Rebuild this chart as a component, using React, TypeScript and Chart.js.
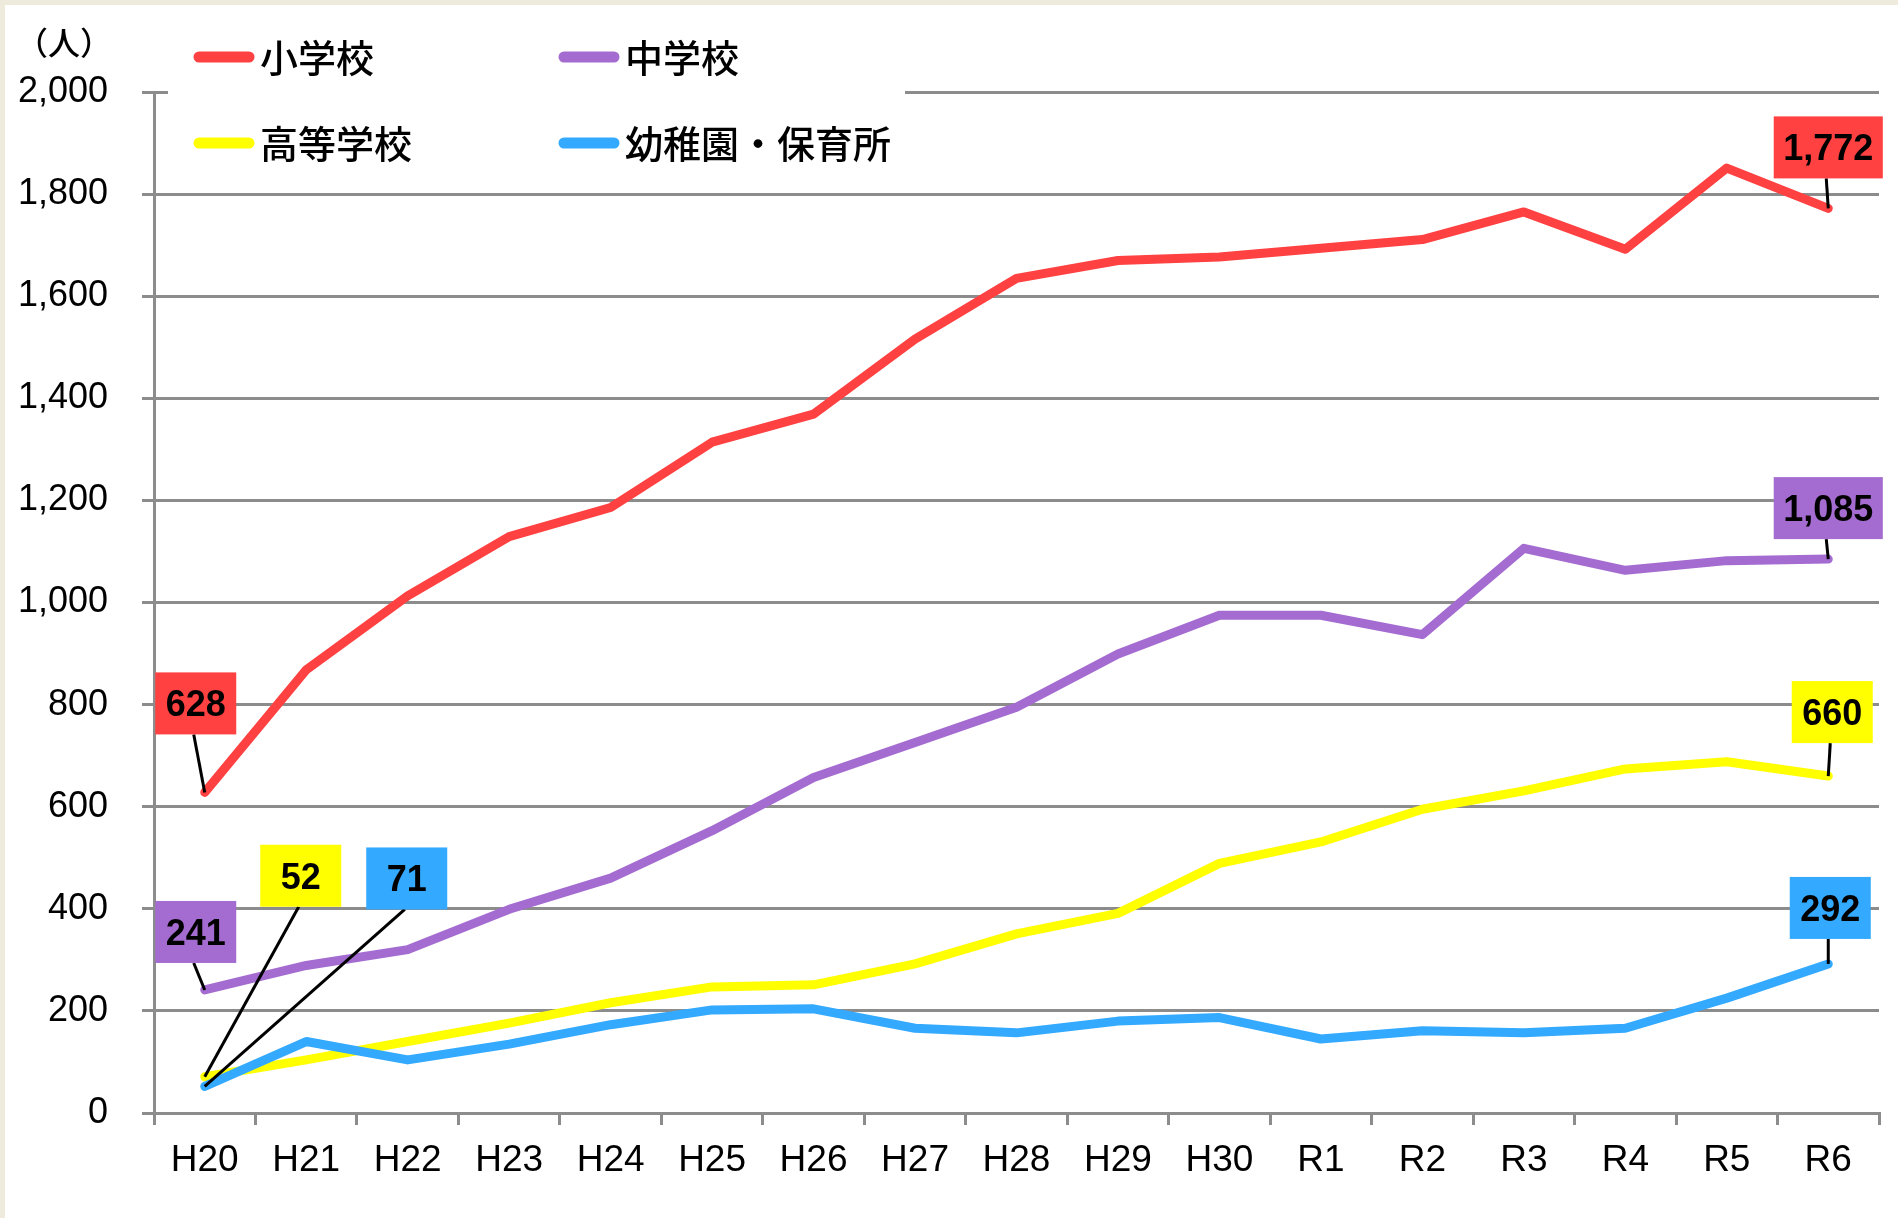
import React, { useEffect, useRef } from 'react';
import { Chart, registerables } from 'chart.js';

Chart.register(...registerables);

const categories = ['H20', 'H21', 'H22', 'H23', 'H24', 'H25', 'H26', 'H27', 'H28', 'H29', 'H30', 'R1', 'R2', 'R3', 'R4', 'R5', 'R6'];

const seriesNames = ['小学校', '中学校', '高等学校', '幼稚園・保育所'];

const elementary = [628, 868, 1013, 1129, 1186, 1314, 1369, 1516, 1635, 1670, 1677, 1694, 1711, 1765, 1692, 1851, 1772];
const junior = [241, 289, 320, 399, 460, 553, 657, 726, 795, 899, 975, 975, 937, 1106, 1063, 1082, 1085];
const high = [71, 104, 140, 176, 216, 247, 251, 292, 351, 391, 489, 531, 595, 631, 674, 688, 660];
const kinder = [52, 140, 104, 135, 173, 202, 204, 166, 157, 180, 187, 145, 161, 157, 166, 225, 292];

// Numbers printed in the label boxes (as shown in the reference)
const firstLabelValues = [628, 241, 52, 71];
const lastLabelValues = [1772, 1085, 660, 292];

const yTicks = { min: 0, max: 2000, step: 200 };
const unitLabel = '（人）';

const COLORS = ['#FF4141', '#A46CD0', '#FFFF00', '#33A9FF'];
const GRID = '#8C8C8C';
const LATIN = "'Liberation Sans', Arial, sans-serif";
const CJK = "'Noto Sans CJK JP', sans-serif";

// label box offsets (px) from their data point: [dx, dy] of box centre
const firstOffsets = [[-9, -89], [-9, -58], [96, -201], [202, -208]];
const lastOffsets = [[0, -61], [0, -51], [4, -64], [2, -56]];

const fmt = (v: number) => Number(v).toLocaleString('en-US');

export default function App() {
  const ref = useRef<HTMLCanvasElement | null>(null);

  useEffect(() => {
    if (!ref.current) return;

    const legendPlugin = {
      id: 'customLegend',
      afterDraw(chart: any) {
        const ctx = chart.ctx as CanvasRenderingContext2D;
        ctx.save();
        ctx.fillStyle = '#ffffff';
        ctx.fillRect(168, 18, 737, 150);
        const pos = [
          [199, 57],
          [564, 57],
          [199, 143],
          [564, 143],
        ];
        chart.data.datasets.forEach((ds: any, i: number) => {
          const [x, y] = pos[i];
          ctx.strokeStyle = ds.borderColor;
          ctx.lineWidth = 11;
          ctx.lineCap = 'round';
          ctx.beginPath();
          ctx.moveTo(x, y);
          ctx.lineTo(x + 50, y);
          ctx.stroke();
          ctx.fillStyle = '#000';
          ctx.font = `500 38px ${CJK}`;
          ctx.textAlign = 'left';
          ctx.textBaseline = 'middle';
          ctx.fillText(ds.label, x + 61, y + 1);
        });
        ctx.font = `500 32px ${CJK}`;
        ctx.textAlign = 'center';
        ctx.textBaseline = 'middle';
        ctx.fillStyle = '#000';
        ctx.fillText(unitLabel, 64, 43);
        ctx.restore();
      },
    };

    const labelPlugin = {
      id: 'valueBoxes',
      afterDatasetsDraw(chart: any) {
        const ctx = chart.ctx as CanvasRenderingContext2D;
        ctx.save();
        ctx.font = `bold 36px ${LATIN}`;
        const draw = (di: number, idx: number, text: string, off: number[]) => {
          const pt = chart.getDatasetMeta(di).data[idx];
          const cx = pt.x + off[0];
          const cy = pt.y + off[1];
          const w = Math.max(81, ctx.measureText(text).width + 19);
          const h = 62;
          ctx.strokeStyle = '#000';
          ctx.lineWidth = 3;
          ctx.lineCap = 'butt';
          ctx.beginPath();
          ctx.moveTo(cx - 2, cy + h / 2);
          ctx.lineTo(pt.x, pt.y);
          ctx.stroke();
          ctx.fillStyle = COLORS[di];
          ctx.fillRect(cx - w / 2, cy - h / 2, w, h);
          ctx.fillStyle = '#000';
          ctx.textAlign = 'center';
          ctx.textBaseline = 'alphabetic';
          ctx.fillText(text, cx, cy + 13);
        };
        const last = categories.length - 1;
        firstLabelValues.forEach((v, i) => draw(i, 0, fmt(v), firstOffsets[i]));
        lastLabelValues.forEach((v, i) => draw(i, last, fmt(v), lastOffsets[i]));
        ctx.restore();
      },
    };

    const mk = (label: string, data: number[], i: number, order: number) => ({
      label,
      data,
      borderColor: COLORS[i],
      backgroundColor: COLORS[i],
      borderWidth: 9,
      pointRadius: 0,
      pointHoverRadius: 0,
      borderCapStyle: 'round' as const,
      borderJoinStyle: 'round' as const,
      tension: 0,
      fill: false,
      order,
    });

    const chart = new Chart(ref.current, {
      type: 'line',
      data: {
        labels: categories,
        datasets: [
          mk(seriesNames[0], elementary, 0, 0),
          mk(seriesNames[1], junior, 1, 1),
          mk(seriesNames[2], high, 2, 3),
          mk(seriesNames[3], kinder, 3, 2),
        ],
      },
      options: {
        responsive: false,
        animation: false,
        events: [],
        layout: { padding: { top: 92, right: 19, left: 0, bottom: 0 } },
        plugins: {
          legend: { display: false },
          tooltip: { enabled: false },
        },
        scales: {
          x: {
            type: 'category',
            offset: true,
            grid: {
              offset: true,
              drawOnChartArea: false,
              drawTicks: true,
              tickLength: 12,
              color: GRID,
              lineWidth: 3,
            },
            border: { color: GRID, width: 3 },
            ticks: {
              color: '#000',
              font: { family: LATIN, size: 37 },
              padding: 14,
              maxRotation: 0,
              autoSkip: false,
            },
            afterFit(s: any) {
              s.height = 105;
              s.paddingLeft = 0;
              s.paddingRight = 0;
            },
          },
          y: {
            min: yTicks.min,
            max: yTicks.max,
            ticks: {
              stepSize: yTicks.step,
              color: '#000',
              font: { family: LATIN, size: 36 },
              padding: 34,
              callback: (v: any) => fmt(v),
            },
            grid: { color: GRID, lineWidth: 3, tickLength: 12 },
            border: { color: GRID, width: 3 },
            afterFit(s: any) {
              s.width = 154;
              s.paddingTop = 0;
              s.paddingBottom = 0;
            },
          },
        },
      },
      plugins: [labelPlugin, legendPlugin],
    });
    return () => chart.destroy();
  }, []);

  return (
    <div style={{ position: 'fixed', left: 0, top: 0, width: 1898, height: 1218, background: '#EEEADC', overflow: 'hidden' }}>
      <div style={{ position: 'absolute', left: 5, top: 5, right: 0, bottom: 0, background: '#ffffff' }} />
      <canvas ref={ref} width={1898} height={1218} style={{ position: 'absolute', left: 0, top: 0, width: 1898, height: 1218 }} />
    </div>
  );
}
